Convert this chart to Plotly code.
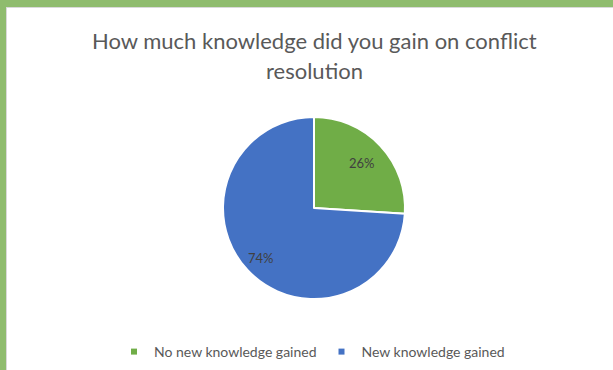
import math
import plotly.graph_objects as go

# Survey responses (share of participants)
categories = ["No new knowledge gained", "New knowledge gained"]
shares = [26, 74]
colors = ["#70AD47", "#4472C4"]
title_lines = ["How much knowledge did you gain on conflict", "resolution"]

W, H = 613, 370
FONT = "Lato, 'Open Sans', sans-serif"

# Pie geometry in pixels
CX, CY, R = 314, 208, 91
label_radius = [0.73, 0.80]  # fraction of the radius for each percentage label

fig = go.Figure()

fig.add_trace(go.Pie(
    labels=categories,
    values=shares,
    marker=dict(colors=colors, line=dict(color="white", width=2)),
    sort=False,
    direction="clockwise",
    rotation=0,
    textinfo="none",
    showlegend=False,
    hoverinfo="label+percent",
    domain=dict(x=[(CX - R) / W, (CX + R) / W],
                y=[(H - CY - R) / H, (H - CY + R) / H]),
))

# Legend entries with small square swatches
for name, col in zip(categories, colors):
    fig.add_trace(go.Scatter(
        x=[None], y=[None], mode="markers", name=name,
        marker=dict(symbol="square", size=6, color=col),
        showlegend=True, hoverinfo="skip",
    ))

fig.update_xaxes(visible=False)
fig.update_yaxes(visible=False)

annotations = []

# Percentage labels placed along each slice's mid-angle
total = sum(shares)
start = 0.0
for val, frac in zip(shares, label_radius):
    sweep = 360.0 * val / total
    mid = math.radians(start + sweep / 2)
    px = CX + frac * R * math.sin(mid)
    py = CY - frac * R * math.cos(mid)
    annotations.append(dict(
        text=f"{round(100 * val / total)}%", xref="paper", yref="paper",
        x=px / W, y=1 - py / H, xanchor="center", yanchor="middle",
        showarrow=False,
        font=dict(family=FONT, size=13, color="#404040"),
    ))
    start += sweep

# Two-line title
for i, line in enumerate(title_lines):
    annotations.append(dict(
        text=line, xref="paper", yref="paper",
        x=314 / W, y=1 - (40 + 30 * i) / H, xanchor="center", yanchor="middle",
        showarrow=False,
        font=dict(family=FONT, size=22, color="#595959"),
    ))

# Chart frame: green band along the top and left edges
shapes = [
    dict(type="rect", xref="paper", yref="paper", x0=0, x1=1,
         y0=1 - 7 / H, y1=1, fillcolor="#8FBC6E", line_width=0, layer="above"),
    dict(type="rect", xref="paper", yref="paper", x0=0, x1=6 / W,
         y0=0, y1=1, fillcolor="#8FBC6E", line_width=0, layer="above"),
    dict(type="line", xref="paper", yref="paper", x0=6.5 / W, x1=6.5 / W,
         y0=0, y1=1 - 7 / H, line=dict(color="#D9D9D9", width=1)),
    dict(type="line", xref="paper", yref="paper", x0=6 / W, x1=1,
         y0=1 - 7.5 / H, y1=1 - 7.5 / H, line=dict(color="#D9D9D9", width=1)),
]

fig.update_layout(
    width=W, height=H,
    margin=dict(l=0, r=0, t=0, b=0),
    paper_bgcolor="white", plot_bgcolor="white",
    shapes=shapes,
    annotations=annotations,
    legend=dict(orientation="h", x=312 / W, xanchor="center",
                y=1 - 352 / H, yanchor="middle",
                font=dict(family=FONT, size=14, color="#595959"),
                itemwidth=30, bgcolor="rgba(0,0,0,0)"),
)

fig.write_html("out.html")
